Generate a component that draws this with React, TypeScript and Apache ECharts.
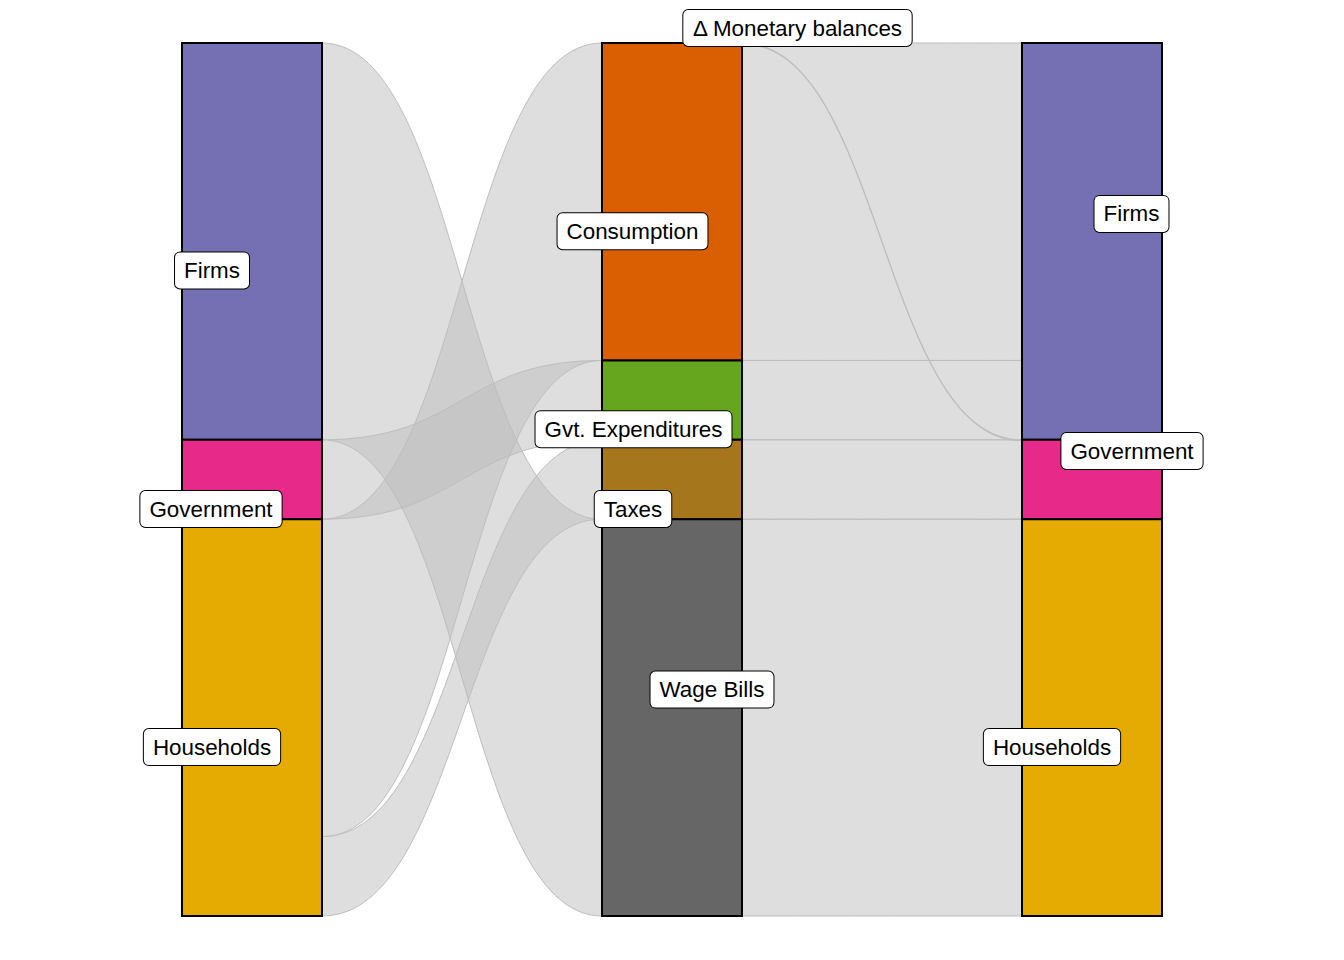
import React, { useEffect, useRef } from "react";
import * as echarts from "echarts";

// Sectors (paying side on the left axis, receiving side on the right axis)
const sectors = ["Firms", "Government", "Households"];

// Transaction types shown on the middle axis, in stacking order (top to bottom)
const flowTypes = ["Δ Monetary balances", "Consumption", "Gvt. Expenditures", "Taxes", "Wage Bills"];

// Each transaction: who pays, who receives, how much
const flowPayer = ["Government", "Households", "Government", "Households", "Firms"];
const flowReceiver = ["Government", "Firms", "Firms", "Government", "Households"];
const flowValue = [0, 80, 20, 20, 100];

// Dark2 palette colours
const sectorColors: Record<string, string> = {
  Firms: "#7570B3",
  Government: "#E7298A",
  Households: "#E6AB02",
};
const flowColors: Record<string, string> = {
  "Δ Monetary balances": "#1B9E77",
  Consumption: "#D95F02",
  "Gvt. Expenditures": "#66A61E",
  Taxes: "#A6761D",
  "Wage Bills": "#666666",
};

// label offsets (repelled labels), relative to stratum centre
const labelOffsets: Record<string, [number, number]> = {
  "L:Firms": [-40, 29],
  "L:Government": [-41, 29.5],
  "L:Households": [-40, 29.5],
  "M:Δ Monetary balances": [125.5, -15],
  "M:Consumption": [-39.5, 29.5],
  "M:Gvt. Expenditures": [-38.5, 29],
  "M:Taxes": [-39, 29.5],
  "M:Wage Bills": [40, -28],
  "R:Firms": [39.5, -27.5],
  "R:Government": [40, -28.5],
  "R:Households": [-40, 29.5],
};

export default function App() {
  const ref = useRef<HTMLDivElement>(null);

  useEffect(() => {
    if (!ref.current) return;
    const chart = echarts.init(ref.current, undefined, { renderer: "svg" });

    const nodes: any[] = [];
    sectors.forEach((s) =>
      nodes.push({ name: "L:" + s, depth: 0, itemStyle: { color: sectorColors[s] } })
    );
    flowTypes.forEach((f) =>
      nodes.push({ name: "M:" + f, depth: 1, itemStyle: { color: flowColors[f] } })
    );
    sectors.forEach((s) =>
      nodes.push({ name: "R:" + s, depth: 2, itemStyle: { color: sectorColors[s] } })
    );
    nodes.forEach((n) => {
      const off = labelOffsets[n.name] || [0, 0];
      n.label = { offset: off };
    });

    const links: any[] = [];
    flowTypes.forEach((f, i) => {
      // zero-width flow on the left coincides with another flow edge; skip it
      if (flowValue[i] > 0) {
        links.push({ source: "L:" + flowPayer[i], target: "M:" + f, value: flowValue[i] });
      }
    });
    flowTypes.forEach((f, i) => {
      links.push({ source: "M:" + f, target: "R:" + flowReceiver[i], value: flowValue[i] });
    });

    chart.setOption({
      animation: false,
      backgroundColor: "#ffffff",
      series: [
        {
          type: "sankey",
          left: 182,
          right: 182,
          top: 43,
          bottom: 44,
          nodeWidth: 140,
          nodeGap: 0,
          layoutIterations: 0,
          draggable: false,
          emphasis: { disabled: true },
          itemStyle: { borderColor: "#000000", borderWidth: 2 },
          lineStyle: {
            color: "rgba(190,190,190,0.5)",
            borderColor: "#bebebe",
            borderWidth: 1,
            curveness: 0.5,
            opacity: 1,
          },
          label: {
            show: true,
            position: "inside",
            formatter: (p: any) => String(p.name).slice(2),
            fontSize: 22.4,
            fontFamily: "'Liberation Sans', Arial, sans-serif",
            color: "#000000",
            backgroundColor: "#ffffff",
            borderColor: "#000000",
            borderWidth: 1,
            borderRadius: 5,
            padding: [7, 9, 6, 9],
            lineHeight: 23,
          },
          data: nodes,
          links,
        },
      ],
    });

    return () => chart.dispose();
  }, []);

  return (
    <div
      ref={ref}
      style={{ position: "fixed", left: 0, top: 0, width: 1344, height: 960, background: "#fff" }}
    />
  );
}
